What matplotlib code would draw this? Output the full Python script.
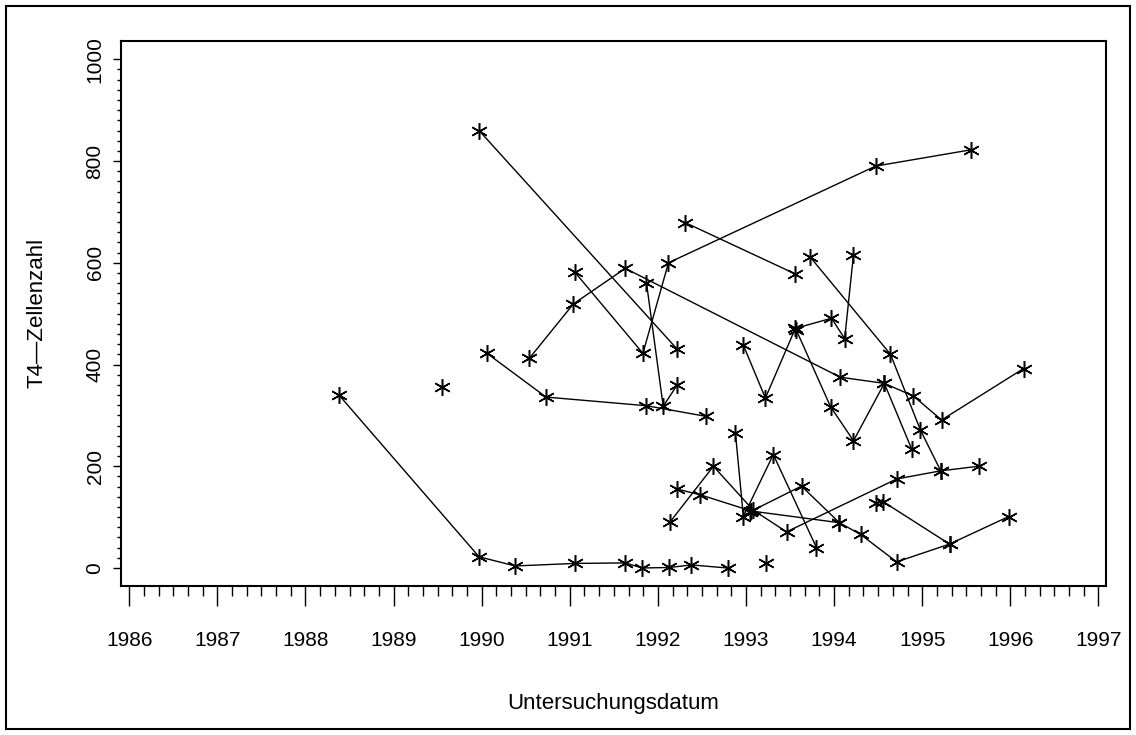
import matplotlib
matplotlib.use("Agg")
import matplotlib.pyplot as plt
import numpy as np
from matplotlib.patches import Rectangle
from matplotlib.ticker import FixedLocator

plt.rcParams["font.family"] = ["Liberation Sans", "DejaVu Sans"]

# T4 cell counts per patient, date as decimal year
p01_t = [1988.38, 1989.97, 1990.38, 1991.06, 1991.63, 1991.82, 1992.13, 1992.38, 1992.79]
p01_v = [340, 22, 4, 9, 10, 0, 1, 6, 0]
p02_t = [1989.55]
p02_v = [356]
p03_t = [1989.97, 1992.22]
p03_v = [860, 430]
p04_t = [1990.06, 1990.73, 1991.87, 1992.55]
p04_v = [422, 336, 319, 298]
p05_t = [1990.54, 1991.04, 1991.63, 1994.07, 1994.57, 1994.90, 1995.22, 1996.15]
p05_v = [412, 519, 589, 375, 363, 338, 291, 392]
p06_t = [1991.06, 1991.83, 1992.12, 1994.47, 1995.55]
p06_v = [581, 422, 600, 790, 822]
p07_t = [1991.87, 1992.06, 1992.22]
p07_v = [561, 318, 360]
p08_t = [1992.31, 1993.56]
p08_v = [679, 578]
p09_t = [1992.97, 1993.22, 1993.56, 1993.97, 1994.12, 1994.22]
p09_v = [438, 334, 471, 491, 451, 616]
p10_t = [1993.57, 1993.96, 1994.22, 1994.57, 1994.88]
p10_v = [468, 317, 250, 363, 234]
p11_t = [1993.73, 1994.64, 1994.98, 1995.21]
p11_v = [611, 420, 271, 191]
p12_t = [1992.14, 1992.63, 1993.08, 1993.46, 1994.71, 1995.21, 1995.64]
p12_v = [91, 200, 114, 71, 175, 191, 200]
p13_t = [1992.22, 1992.48, 1993.06, 1994.06]
p13_v = [155, 144, 112, 89]
p14_t = [1992.88, 1992.97, 1993.31, 1993.80]
p14_v = [265, 101, 223, 40]
p15_t = [1993.04, 1993.63, 1994.06, 1994.30, 1994.71, 1995.31, 1995.98]
p15_v = [110, 161, 89, 66, 12, 47, 101]
p16_t = [1994.47, 1994.56, 1995.31]
p16_v = [127, 130, 47]
p17_t = [1993.23]
p17_v = [9]

patients = [
    (p01_t, p01_v), (p02_t, p02_v), (p03_t, p03_v), (p04_t, p04_v),
    (p05_t, p05_v), (p06_t, p06_v), (p07_t, p07_v), (p08_t, p08_v),
    (p09_t, p09_v), (p10_t, p10_v), (p11_t, p11_v), (p12_t, p12_v),
    (p13_t, p13_v), (p14_t, p14_v), (p15_t, p15_v), (p16_t, p16_v),
    (p17_t, p17_v),
]

years = list(range(1986, 1998))
y_ticks = [0, 200, 400, 600, 800, 1000]

fig = plt.figure(figsize=(11.36, 7.35), dpi=100)
ax = fig.add_axes([121 / 1136, 1 - 586 / 735, 985 / 1136, 545 / 735])

for t, v in patients:
    ax.plot(t, v, color="black", lw=1.0, marker=(6, 2, 0), markersize=12,
            markeredgewidth=1.1, markeredgecolor="black")

ax.set_xlim(1985.906, 1997.086)
ax.set_ylim(-35.4, 1036)

ax.xaxis.set_major_locator(FixedLocator(years))
ax.xaxis.set_minor_locator(FixedLocator(np.arange(1986, 1997.01, 1 / 6)))
ax.set_xticklabels([str(y) for y in years])
ax.yaxis.set_major_locator(FixedLocator(y_ticks))
ax.yaxis.set_minor_locator(FixedLocator(np.arange(0, 1001, 20)))
ax.set_yticklabels([str(y) for y in y_ticks])

ax.tick_params(axis="x", which="major", length=14.4, width=1.0, pad=18, labelsize=15)
ax.tick_params(axis="x", which="minor", length=7.2, width=1.0)
ax.tick_params(axis="y", which="major", length=5.8, width=1.0, pad=6, labelsize=15)
ax.tick_params(axis="y", which="minor", length=3.0, width=1.0)
for lab in ax.get_yticklabels():
    lab.set_rotation(90)
    lab.set_va("center")

for sp in ax.spines.values():
    sp.set_linewidth(1.5)

ax.set_xlabel("Untersuchungsdatum", fontsize=16, va="center")
ax.xaxis.set_label_coords(0.5, (586 - 703) / 545)
ax.set_ylabel("T4\u2014Zellenzahl", fontsize=16, va="center")
ax.yaxis.set_label_coords((37 - 121) / 985, 0.5 + (313.5 - 313) / 545)

fig.patches.append(Rectangle((6 / 1136, 6 / 735), 1 - 12 / 1136, 1 - 12 / 735,
                             transform=fig.transFigure, fill=False, lw=1.5,
                             ec="black"))

fig.savefig("out.png", dpi=100, facecolor="white")
